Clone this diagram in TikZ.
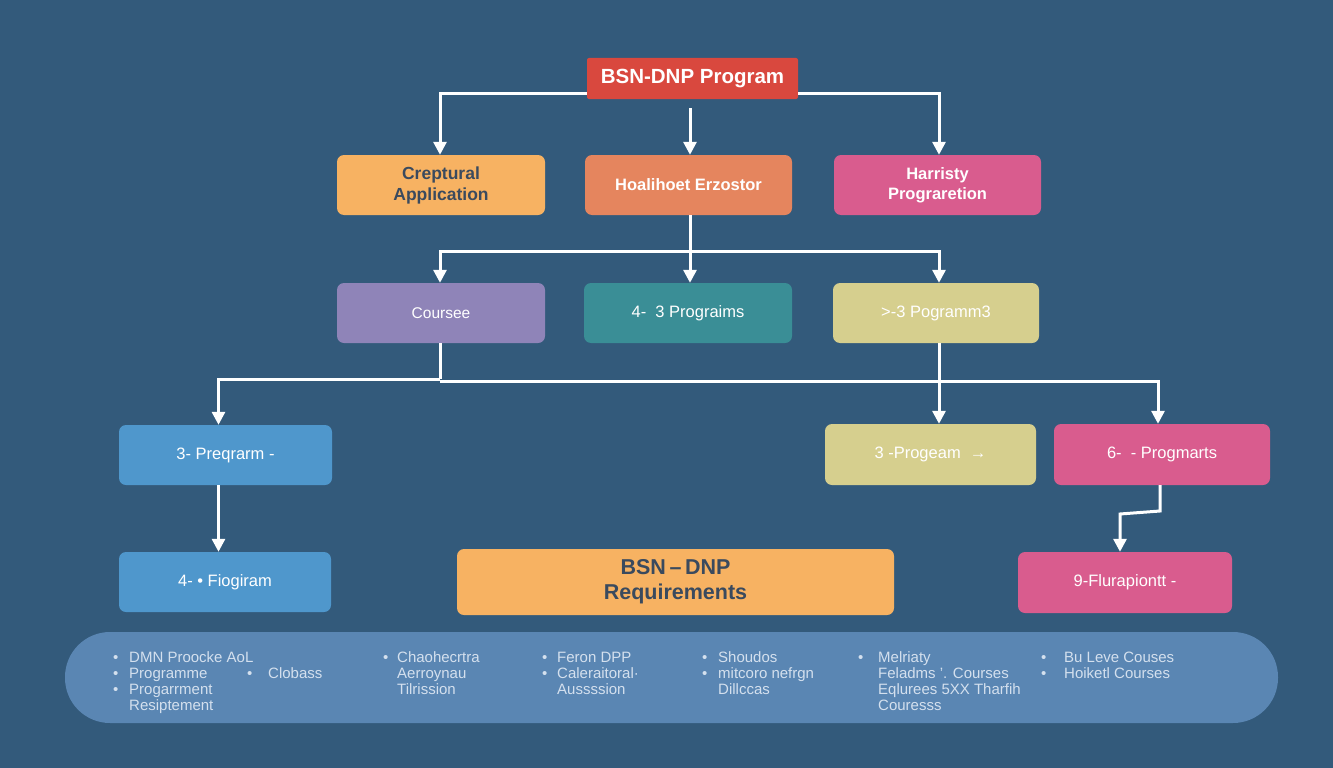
\documentclass[tikz,border=0pt]{standalone}
\usepackage{fontspec}
\setmainfont{Liberation Sans}
\usetikzlibrary{arrows.meta}
\definecolor{bg}{HTML}{335A7B}
\definecolor{cred}{HTML}{D9483E}
\definecolor{corange}{HTML}{F7B262}
\definecolor{ccoral}{HTML}{E5855E}
\definecolor{cpink}{HTML}{D95C8E}
\definecolor{cpurple}{HTML}{8F84B8}
\definecolor{cteal}{HTML}{3A8E96}
\definecolor{ckhaki}{HTML}{D6CF8E}
\definecolor{cblue}{HTML}{4F97CC}
\definecolor{cbar}{HTML}{5A86B3}
\definecolor{dtext}{HTML}{3A4A5E}
\definecolor{btext}{HTML}{D4E0EE}
\tikzset{
  box/.style={rounded corners=7pt, minimum height=60pt, inner sep=0pt, align=center,
    text=white, font=\fontsize{16.5}{18}\selectfont},
  boldbox/.style={box, font=\bfseries\fontsize{16.5}{20}\selectfont},
  conn/.style={draw=white, line width=3pt, -{Triangle[width=13pt,length=13pt]}},
  plain/.style={draw=white, line width=3pt},
  coltext/.style={anchor=base west, inner sep=0pt, text=btext, font=\fontsize{15}{16}\selectfont}
}
\begin{document}
\begin{tikzpicture}[x=1pt,y=-1pt]
\fill[bg] (0,0) rectangle (1333,768);
\useasboundingbox (0,0) rectangle (1333,768);

% nodes
\node[box, fill=cred, rounded corners=2pt, minimum width=211pt, minimum height=41pt, font=\bfseries\fontsize{20.5}{22}\selectfont] (top) at (692.5,78.5) {BSN-DNP Program};
\node[boldbox, fill=corange, minimum width=208pt, text=dtext, font=\bfseries\fontsize{17.5}{21}\selectfont] (cre) at (441,185) {Creptural\\Application};
\node[boldbox, fill=ccoral, minimum width=207pt] (hoa) at (688.5,185) {Hoalihoet Erzostor};
\node[boldbox, fill=cpink, minimum width=207pt] (har) at (937.5,185) {Harristy\\Prograretion};

\node[box, fill=cpurple, minimum width=208pt, font=\fontsize{15.5}{18}\selectfont] (cou) at (441,313) {Coursee};
\node[box, fill=cteal, minimum width=208pt] (p43) at (688,313) {4-\ \ 3 Prograims};
\node[box, fill=ckhaki, minimum width=206pt] (p33) at (936,313) {>-3 Pogramm3};

\node[box, fill=cblue, minimum width=213pt] (pre) at (225.5,455) {3- Preqrarm -};
\node[box, fill=ckhaki, minimum width=211pt, minimum height=61pt] (prg) at (930.5,454.5) {3 -Progeam \ \textrightarrow};
\node[box, fill=cpink, minimum width=216pt, minimum height=61pt] (pma) at (1162,454.5) {6- \ - Progmarts};

\node[box, fill=cblue, minimum width=212pt] (fio) at (225,582) {4- \textbullet\ Fiogiram};
\node[box, fill=corange, minimum width=437pt, minimum height=66pt, text=dtext, font=\bfseries\fontsize{21.5}{25}\selectfont] (req) at (675.5,582) {BSN\,--\,DNP\\Requirements};
\node[box, fill=cpink, minimum width=214pt, minimum height=61pt] (flu) at (1125,582.5) {9-Flurapiontt -};

\node[fill=cbar, rounded corners=45pt, minimum width=1213pt, minimum height=91pt, inner sep=0pt] (bar) at (671.5,677.5) {};

% connectors
\draw[conn] ([yshift=-14.5pt]top.west) -| ([xshift=-1pt]cre.north);
\draw[conn] ([yshift=-14.5pt]top.east) -| ([xshift=1.5pt]har.north);
\draw[conn] ([xshift=-2.5pt,yshift=-9pt]top.south) -- ([xshift=1.5pt]hoa.north);

\coordinate (j1) at (690,251);
\draw[plain] ([xshift=1.5pt]hoa.south) -- (j1);
\draw[conn] (j1) -| ([xshift=-1pt]cou.north);
\draw[conn] (j1) -| ([xshift=3pt]p33.north);
\draw[conn] (j1) -- ([xshift=2pt]p43.north);

\coordinate (j2) at (440,379);
\draw[plain] ([xshift=-1pt]cou.south) -- (j2);
\draw[conn] (j2) -| ([xshift=-7pt]pre.north);
\draw[conn] ([yshift=-2pt]j2) -| ([xshift=-4pt]pma.north);
\draw[conn] ([xshift=3pt]p33.south) -- ([xshift=3pt]p33.south |- prg.north);

\draw[conn] ([xshift=-7pt]pre.south) -- ([xshift=-7pt]pre.south |- fio.north);

\coordinate (k1) at (1160,511);
\coordinate (k2) at (1120,514);
\draw[conn] ([xshift=-2pt]pma.south) -- (k1) -- (k2) -- ([xshift=-5pt]flu.north);

% bottom bar texts
\node[coltext] (c1) at (113,662) {\begin{tabular}[t]{@{}p{16pt}@{}l@{}}
\textbullet & DMN Proocke AoL\\
\textbullet & Programme\\
\textbullet & Progarrment\\
 & Resiptement
\end{tabular}};
\node[coltext] (c1b) at (247,678) {\begin{tabular}[t]{@{}p{21pt}@{}l@{}}
\textbullet & Clobass
\end{tabular}};
\node[coltext] (c2) at (383,662) {\begin{tabular}[t]{@{}p{14pt}@{}l@{}}
\textbullet & Chaohecrtra\\
 & Aerroynau\\
 & Tilrission
\end{tabular}};
\node[coltext] (c3) at (542,662) {\begin{tabular}[t]{@{}p{15pt}@{}l@{}}
\textbullet & Feron DPP\\
\textbullet & Caleraitoral\textperiodcentered\\
 & Aussssion
\end{tabular}};
\node[coltext] (c4) at (702,662) {\begin{tabular}[t]{@{}p{16pt}@{}l@{}}
\textbullet & Shoudos\\
\textbullet & mitcoro nefrgn\\
 & Dillccas
\end{tabular}};
\node[coltext] (c5) at (858,662) {\begin{tabular}[t]{@{}p{20pt}@{}l@{}}
\textbullet & Melriaty\\
 & Feladms '. Courses\\
 & Eqlurees 5XX Tharfih\\
 & Couresss
\end{tabular}};
\node[coltext] (c6) at (1041,662) {\begin{tabular}[t]{@{}p{23pt}@{}l@{}}
\textbullet & Bu Leve Couses\\
\textbullet & Hoiketl Courses
\end{tabular}};
\end{tikzpicture}
\end{document}
